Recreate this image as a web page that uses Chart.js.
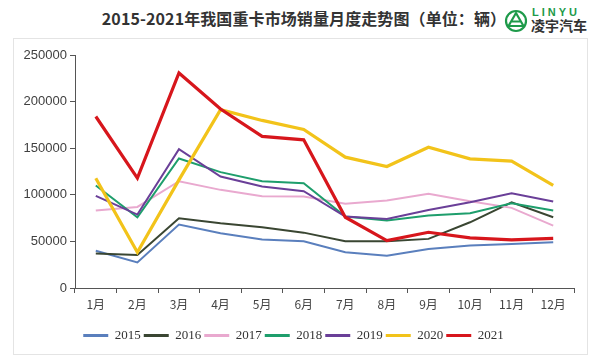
<!DOCTYPE html>
<html>
<head>
<meta charset="utf-8">
<script src="https://cdn.jsdelivr.net/npm/chart.js@4"></script>
<style>
  html, body { margin: 0; padding: 0; background: #fff; }
  body { width: 600px; height: 363px; position: relative; overflow: hidden; font-family: "Noto Sans CJK SC", sans-serif; }
  #title { position: absolute; left: 4px; width: 600px; top: 6px; text-align: center; font-size: 16px; font-weight: bold; color: #333; letter-spacing: 0.1px; }
  #logo { position: absolute; left: 503px; top: 7px; width: 95px; height: 32px; }
  #logo .en { position: absolute; left: 29px; top: 0px; line-height: 10px; font-family: "Liberation Sans", sans-serif; font-weight: bold; font-size: 11px; color: #1e9a4a; letter-spacing: 3px; }
  #logo .cn { position: absolute; left: 28px; top: 10px; line-height: 16px; font-size: 14px; font-weight: bold; color: #333; letter-spacing: 0px; }
  #box { position: absolute; left: 13px; top: 38px; width: 575px; height: 317px; border: 1px solid #e4e4e4; box-sizing: border-box; }
  #wrap { position: absolute; left: 13px; top: 38px; width: 576px; height: 318px; }
</style>
</head>
<body>
<div id="title">2015-2021年我国重卡市场销量月度走势图（单位：辆）</div>
<div id="logo">
  <svg width="24" height="24" viewBox="0 0 24 24" style="position:absolute;left:1px;top:2px">
    <circle cx="12" cy="12" r="10" fill="none" stroke="#1e9a4a" stroke-width="2.2"/>
    <path d="M12 4 L4.5 17 L19.5 17 Z" fill="none" stroke="#1e9a4a" stroke-width="2.2" stroke-linejoin="round"/>
    <path d="M8 12.5 L16 12.5" stroke="#1e9a4a" stroke-width="2"/>
  </svg>
  <span class="en">LINYU</span>
  <span class="cn">凌宇汽车</span>
</div>
<div id="box"></div>
<div id="wrap"><canvas id="c" width="576" height="318"></canvas></div>
<script>
const months = ["1月","2月","3月","4月","5月","6月","7月","8月","9月","10月","11月","12月"];
const yTicks = [0, 50000, 100000, 150000, 200000, 250000];

const s2015 = [40000, 27500, 68000, 58700, 52000, 50100, 38300, 34700, 41900, 45500, 47300, 49000];
const s2016 = [37000, 35500, 74800, 69400, 65100, 59400, 50100, 50100, 52700, 70500, 92000, 75900];
const s2017 = [83100, 87000, 114600, 105300, 98500, 98100, 90300, 93800, 101000, 93100, 86000, 67000];
const s2018 = [110000, 75900, 139000, 124300, 114600, 112400, 76600, 72300, 77700, 80200, 90900, 83100];
const s2019 = [98900, 78800, 149000, 119600, 108900, 103800, 76600, 74100, 83800, 92000, 101700, 92800];
const s2020 = [117800, 38300, 116000, 191300, 179800, 170100, 140400, 130400, 151100, 138600, 136100, 110000];
const s2021 = [184000, 118000, 230700, 192000, 162600, 159000, 75900, 50900, 59800, 53700, 51600, 53300];

const seriesNames = ["2021","2020","2019","2018","2017","2016","2015"];
const seriesData = [s2021, s2020, s2019, s2018, s2017, s2016, s2015];
const seriesColors = ["#d7161c", "#f2c31a", "#6a3f98", "#1e9e6c", "#e9a9cf", "#3a4632", "#5a7fbd"];
const seriesWidths = [3.2, 3.2, 2, 2, 2, 2, 2];

const datasets = seriesNames.map((n, i) => ({
  label: n,
  data: seriesData[i],
  borderColor: seriesColors[i],
  backgroundColor: seriesColors[i],
  borderWidth: seriesWidths[i],
  pointRadius: 0,
  pointHoverRadius: 0,
  tension: 0,
  fill: false
}));

new Chart(document.getElementById('c'), {
  type: 'line',
  data: { labels: months, datasets },
  options: {
    responsive: false,
    animation: false,
    devicePixelRatio: 1,
    layout: { padding: { left: 0, right: 15, top: 17, bottom: 4 } },
    plugins: {
      title: { display: false },
      tooltip: { enabled: false },
      legend: {
        position: 'bottom',
        reverse: true,
        labels: {
          boxWidth: 25,
          boxHeight: 3,
          padding: 3,
          color: '#333',
          font: { family: '"Liberation Serif", serif', size: 13 },
          generateLabels: (chart) => {
            const items = Chart.defaults.plugins.legend.labels.generateLabels(chart);
            items.forEach(it => { it.lineWidth = 0; it.strokeStyle = 'rgba(0,0,0,0)'; });
            return items;
          }
        }
      }
    },
    scales: {
      x: {
        offset: true,
        grid: { display: true, drawOnChartArea: false, drawTicks: true, tickLength: 5, color: '#555', offset: true },
        border: { display: true, color: '#555', width: 1 },
        ticks: { color: '#444', padding: 4, font: { family: '"Noto Sans CJK SC", sans-serif', size: 12 }, maxRotation: 0, autoSkip: false },
        afterFit: (s) => { s.height = 38; }
      },
      y: {
        min: 0,
        max: 250000,
        afterBuildTicks: (s) => { s.ticks = yTicks.map(v => ({ value: v })); },
        grid: { display: true, drawOnChartArea: false, drawTicks: true, tickLength: 5, color: '#555' },
        border: { display: true, color: '#555', width: 1 },
        ticks: { color: '#404040', padding: 3, font: { family: '"Liberation Sans", sans-serif', size: 13 }, callback: (v) => String(v) },
        afterFit: (s) => { s.width = 62; }
      }
    }
  }
});
</script>
</body>
</html>
